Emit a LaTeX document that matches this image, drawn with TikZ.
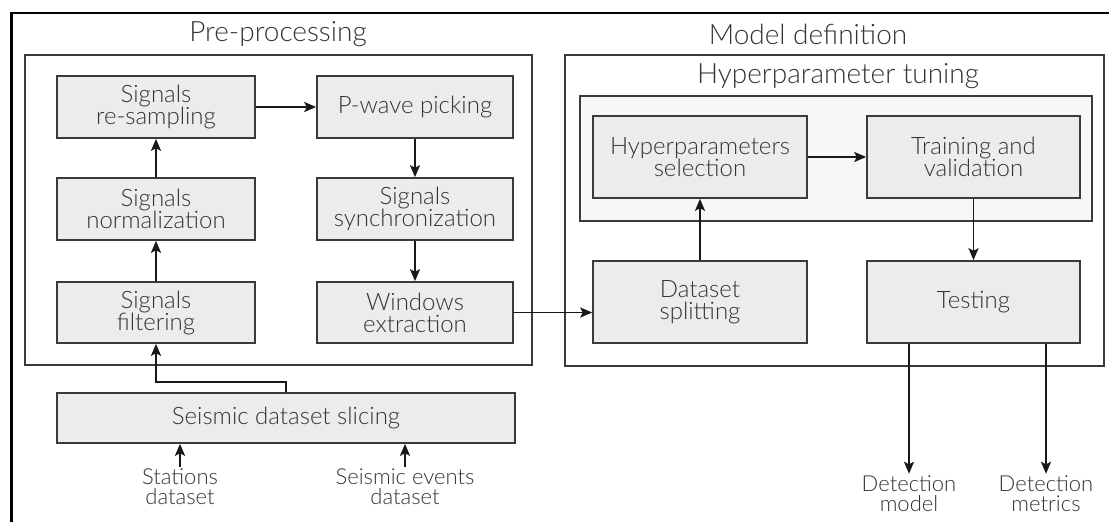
\documentclass[tikz,border=0pt]{standalone}
\usepackage{fontspec}
\setmainfont{Lato Light}
\usetikzlibrary{arrows.meta}
\definecolor{boxfill}{HTML}{ECECEC}
\definecolor{tunefill}{HTML}{F7F7F7}
\definecolor{edge}{HTML}{3A3A3A}
\definecolor{txt}{HTML}{333333}

\begin{document}
\begin{tikzpicture}[x=1pt,y=-1pt,
  font=\fontsize{24}{22}\selectfont, text=txt,
  >={Stealth[length=12pt,width=10pt,inset=2.5pt]},
  block/.style={draw=edge,line width=1.6pt,fill=boxfill,align=center,inner sep=0pt},
  group/.style={draw=edge,line width=1.6pt},
  link/.style={->,line width=1.8pt,draw=black!90},
  title/.style={font=\fontsize{28}{28}\selectfont},
  ext/.style={align=center,inner sep=2pt,font=\fontsize{22}{20}\selectfont}]
\useasboundingbox (0,0) rectangle (1109,522);
\draw[line width=2.4pt] (11.5,522) -- (11.5,13) -- (1109,13);

% the two stages and the tuning loop
\draw[group] (25,55) rectangle (532,365);
\draw[group] (565,55) rectangle (1104,366);
\draw[group,fill=tunefill] (580,96) rectangle (1092,221);
\node[title] (pretitle) at (278,34) {Pre-processing};
\node[title] (modeltitle) at (808,34) {Model definition};
\node[title] (tunetitle) at (838,76) {Hyperparameter tuning};

\node[block,minimum width=198,minimum height=62] (resamp) at (156,107) {Signals\\re-sampling};
\node[block,minimum width=196,minimum height=62] (pwave) at (415,107) {P-wave picking};
\node[block,minimum width=198,minimum height=62] (norm) at (156,209) {Signals\\normalization};
\node[block,minimum width=196,minimum height=62] (sync) at (415,209) {Signals\\synchronization};
\node[block,minimum width=198,minimum height=61] (filt) at (156,312.5) {Signals\\filtering};
\node[block,minimum width=196,minimum height=61] (windows) at (415,312.5) {Windows\\extraction};
\node[block,minimum width=458,minimum height=50] (slicing) at (286,418) {Seismic dataset slicing};

\node[block,minimum width=214,minimum height=82] (hyper) at (700,157) {Hyperparameters\\selection};
\node[block,minimum width=213,minimum height=82] (train) at (973.5,157) {Training and\\validation};
\node[block,minimum width=214,minimum height=82] (split) at (700,302) {Dataset\\splitting};
\node[block,minimum width=213,minimum height=82] (test) at (973.5,302) {Testing};

\node[ext] (stations) at (180,487) {Stations\\dataset};
\node[ext] (events) at (405,487) {Seismic events\\dataset};
\node[ext] (detmodel) at (909,494) {Detection\\model};
\node[ext] (detmetrics) at (1046,494) {Detection\\metrics};

\draw[link] (stations) -- (stations |- slicing.south);
\draw[link] (events) -- (events |- slicing.south);
\draw[link] (slicing.north) -- ++(0,-10) -| (filt.south);
\draw[link] (filt) -- (norm);
\draw[link] (norm) -- (resamp);
\draw[link] (resamp) -- (pwave);
\draw[link] (pwave) -- (sync);
\draw[link] (sync) -- (windows);
\draw[link] (windows.east) -- (windows.east -| split.west);
\draw[link] (split) -- (hyper);
\draw[link] (hyper) -- (train);
\draw[link] (train) -- (test);
\draw[link] (test.south -| detmodel) -- (detmodel);
\draw[link] (test.south -| detmetrics) -- (detmetrics);
\end{tikzpicture}
\end{document}
